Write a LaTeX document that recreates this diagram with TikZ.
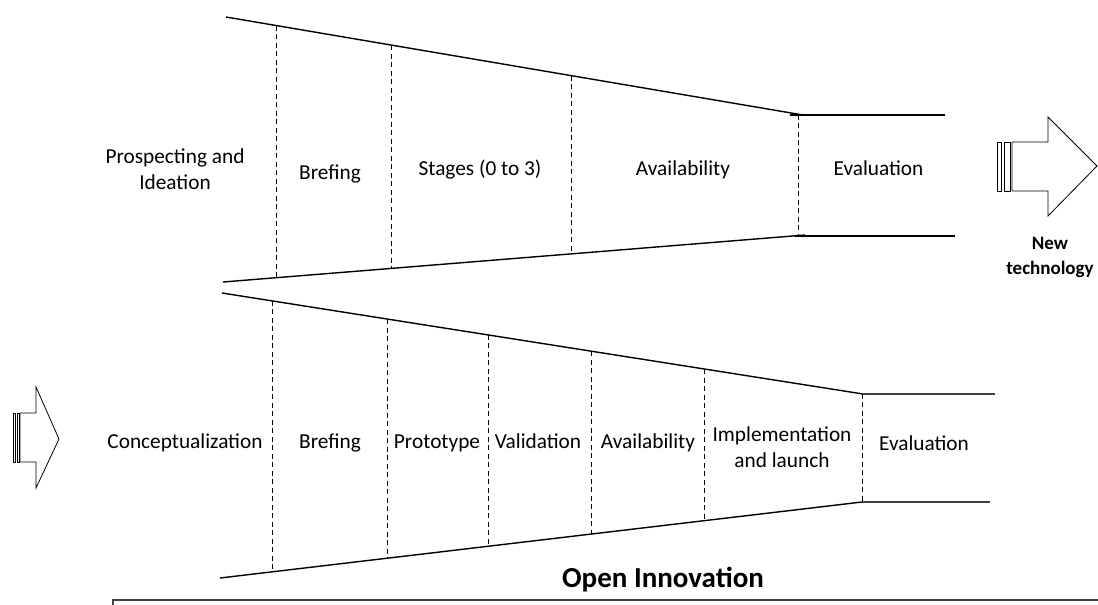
\documentclass[tikz,border=0pt]{standalone}
\usepackage{fontspec}
\setmainfont{Carlito}
\begin{document}
\begin{tikzpicture}[x=1pt,y=-1pt,
  solidln/.style={line width=1.4pt,black},
  grayln/.style={line width=1.6pt,black!75},
  dashln/.style={line width=0.9pt,dash pattern=on 5pt off 3.5pt},
  lbl/.style={font=\fontsize{21.3}{25}\selectfont,anchor=base,inner sep=0pt},
  lbl2/.style={font=\fontsize{21.3}{25.5}\selectfont,align=center,inner sep=0pt},
  bigarrow/.style={line width=0.8pt,fill=white}]
\useasboundingbox (0,0) rectangle (1098,605);
% ---- top funnel ----
\draw[solidln] (226,17) -- (803,115);
\draw[solidln] (223,282) -- (805,235);
\draw[solidln] (790,115) -- (945,115);
\draw[solidln] (795,236) -- (955,236);
\draw[dashln] (276,25.5) -- (276,277.7);
\draw[dashln] (391,45) -- (391,268.4);
\draw[dashln] (571,75.6) -- (571,253.9);
\draw[dashln] (798,114.5) -- (798,235.5);
% ---- bottom funnel ----
\draw[solidln] (222,293) -- (863,394);
\draw[solidln] (220,578) -- (862,502);
\draw[grayln] (862,394) -- (995,394);
\draw[grayln] (862,502) -- (990,502);
\draw[dashln] (272,300.9) -- (272,572.1);
\draw[dashln] (387,319) -- (387,558.5);
\draw[dashln] (488,334.9) -- (488,546.5);
\draw[dashln] (591,351.2) -- (591,534.3);
\draw[dashln] (704,369) -- (704,520.9);
\draw[dashln] (862,393.8) -- (862,502.2);
% ---- bottom frame ----
\draw[grayln] (113,610) -- (113,600) -- (1110,600);
% ---- top labels ----
\node[lbl2] (pi) at (175,169) {Prospecting and\\Ideation};
\node[lbl] (b1) at (330,179) {Brefing};
\node[lbl] (s1) at (480,175) {Stages (0 to 3)};
\node[lbl] (a1) at (683,175) {Availability};
\node[lbl] (e1) at (878.5,175) {Evaluation};
% ---- bottom labels ----
\node[lbl] (c2) at (185,448) {Conceptualization};
\node[lbl] (b2) at (330,448) {Brefing};
\node[lbl] (p2) at (437,448) {Prototype};
\node[lbl] (v2) at (538,448) {Validation};
\node[lbl] (a2) at (648,448) {Availability};
\node[lbl2] (i2) at (782,447) {Implementation\\and launch};
\node[lbl] (e2) at (924,450) {Evaluation};
% ---- title ----
\node[font=\fontsize{29}{34}\selectfont\bfseries,anchor=base,inner sep=0pt] (oi) at (663,587) {Open Innovation};
% ---- right striped arrow ----
\draw[bigarrow] (1012,142) -- (1048,142) -- (1048,117) -- (1097,166) -- (1048,216) -- (1048,191) -- (1012,191) -- cycle;
\draw[bigarrow] (997,142) rectangle (1001,191);
\draw[bigarrow] (1004,142) rectangle (1010,191);
\node[font=\fontsize{19}{25}\selectfont\bfseries,align=center,inner sep=0pt] (nt) at (1050,257) {New\\technology};
% ---- left striped arrow ----
\draw[bigarrow] (20,413) -- (36,413) -- (36,387) -- (59,439) -- (36,488) -- (36,462) -- (20,462) -- cycle;
\draw[bigarrow] (13,413) rectangle (15.3,462);
\draw[bigarrow] (17,413) rectangle (19.5,462);
\end{tikzpicture}
\end{document}
